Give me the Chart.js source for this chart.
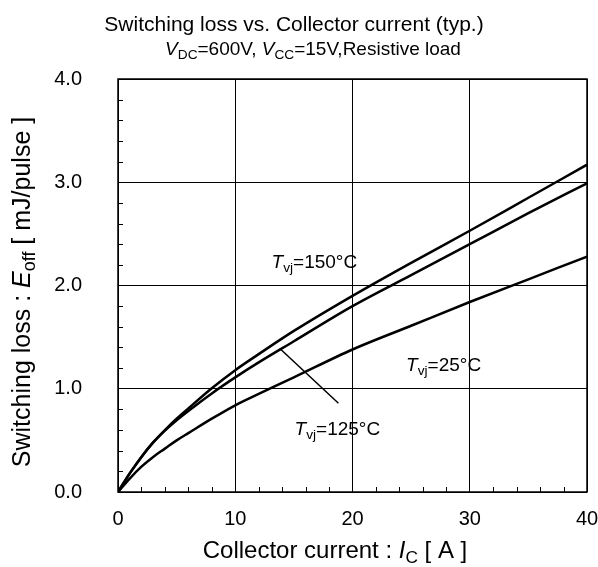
<!DOCTYPE html>
<html>
<head>
<meta charset="utf-8">
<script src="https://cdn.jsdelivr.net/npm/chart.js@4"></script>
<style>
  html, body { margin: 0; padding: 0; background: #fff; }
  #wrap { width: 598px; height: 567px; }
</style>
</head>
<body>
<div id="wrap"><canvas id="chart" width="598" height="567"></canvas></div>
<script>
// collector current [A]
const current = [0, 1, 2, 3, 4, 5, 6, 8, 10, 12, 15, 20, 25, 30, 35, 40];
// Eoff [mJ/pulse]
const eoff150 = [0, 0.18, 0.34, 0.48, 0.60, 0.71, 0.81, 1.005, 1.18, 1.335, 1.56, 1.90, 2.22, 2.53, 2.85, 3.17];
const eoff125 = [0, 0.18, 0.34, 0.48, 0.595, 0.695, 0.785, 0.955, 1.11, 1.255, 1.46, 1.80, 2.10, 2.40, 2.70, 2.99];
const eoff25 = [0, 0.13, 0.245, 0.34, 0.42, 0.50, 0.57, 0.71, 0.84, 0.95, 1.11, 1.38, 1.61, 1.84, 2.06, 2.28];

const xMajorTicks = [0, 10, 20, 30, 40];
const xMinorTicks = [2, 4, 6, 8, 12, 14, 16, 18, 22, 24, 26, 28, 32, 34, 36, 38];
const yMajorTicks = [0, 1, 2, 3, 4];
const yMinorTicks = [0.2, 0.4, 0.6, 0.8, 1.2, 1.4, 1.6, 1.8, 2.2, 2.4, 2.6, 2.8, 3.2, 3.4, 3.6, 3.8];

const FONT = '"Liberation Sans", Arial, sans-serif';

const toPoints = (ys) => current.map((x, i) => ({ x: x, y: ys[i] }));

const curve = (label, ys) => ({
  label: label,
  data: toPoints(ys),
  borderColor: "#000",
  borderWidth: 2.5,
  pointRadius: 0,
  cubicInterpolationMode: "monotone",
  fill: false
});

// draws a run of text pieces: {t, it: italic, sub: subscript}
const drawRich = (ctx, x, y, parts, size, align) => {
  const fontOf = (p) => (p.it ? "italic " : "") + (p.sub ? size * 0.72 : size) + "px " + FONT;
  let total = 0;
  parts.forEach((p) => {
    ctx.font = fontOf(p);
    total += ctx.measureText(p.t).width;
  });
  let cx = align === "center" ? x - total / 2 : x;
  ctx.textAlign = "left";
  ctx.textBaseline = "alphabetic";
  parts.forEach((p) => {
    ctx.font = fontOf(p);
    ctx.fillText(p.t, cx, p.sub ? y + size * 0.2 : y);
    cx += ctx.measureText(p.t).width;
  });
};

const decorations = {
  id: "decorations",
  afterDraw(chart) {
    const { ctx, chartArea: a, scales } = chart;
    const xs = scales.x, ys = scales.y;
    ctx.save();
    ctx.fillStyle = "#000";
    ctx.strokeStyle = "#000";

    // frame
    ctx.lineWidth = 1.5;
    ctx.strokeRect(a.left, a.top, a.right - a.left, a.bottom - a.top);

    // inward minor ticks
    ctx.lineWidth = 1;
    ctx.beginPath();
    xMinorTicks.forEach((v) => {
      const px = Math.round(xs.getPixelForValue(v)) + 0.5;
      ctx.moveTo(px, a.bottom);
      ctx.lineTo(px, a.bottom - 5);
    });
    yMinorTicks.forEach((v) => {
      const py = Math.round(ys.getPixelForValue(v)) + 0.5;
      ctx.moveTo(a.left, py);
      ctx.lineTo(a.left + 5, py);
    });
    ctx.stroke();

    // leader line for 125 degC
    ctx.lineWidth = 1.5;
    ctx.beginPath();
    ctx.moveTo(xs.getPixelForValue(13.8), ys.getPixelForValue(1.39));
    ctx.lineTo(xs.getPixelForValue(18.8), ys.getPixelForValue(0.86));
    ctx.stroke();

    // curve labels
    const tvj = (temp) => [{ t: "T", it: true }, { t: "vj", sub: true }, { t: "=" + temp + "°C" }];
    drawRich(ctx, xs.getPixelForValue(13.1), ys.getPixelForValue(2.17), tvj(150), 19, "left");
    drawRich(ctx, xs.getPixelForValue(15.06), ys.getPixelForValue(0.553), tvj(125), 19, "left");
    drawRich(ctx, xs.getPixelForValue(24.57), ys.getPixelForValue(1.168), tvj(25), 19, "left");

    // titles
    drawRich(ctx, 294, 31, [{ t: "Switching loss vs. Collector current (typ.)" }], 21, "center");
    drawRich(ctx, 313, 55, [
      { t: "V", it: true }, { t: "DC", sub: true }, { t: "=600V, " },
      { t: "V", it: true }, { t: "CC", sub: true }, { t: "=15V,Resistive load" }
    ], 19, "center");

    // x axis title
    drawRich(ctx, 335, 558, [
      { t: "Collector current : " }, { t: "I", it: true }, { t: "C", sub: true }, { t: " [ A ]" }
    ], 24, "center");

    // y axis title
    ctx.save();
    ctx.translate(30, 292);
    ctx.rotate(-Math.PI / 2);
    drawRich(ctx, 0, 0, [
      { t: "Switching loss : " }, { t: "E", it: true }, { t: "off", sub: true }, { t: " [ mJ/pulse ]" }
    ], 25, "center");
    ctx.restore();

    ctx.restore();
  }
};

const config = {
  type: "line",
  data: {
    datasets: [
      curve("Tvj=150°C", eoff150),
      curve("Tvj=125°C", eoff125),
      curve("Tvj=25°C", eoff25)
    ]
  },
  options: {
    responsive: false,
    animation: false,
    layout: { padding: { left: 0, top: 79, right: 11, bottom: 0 } },
    plugins: {
      legend: { display: false },
      tooltip: { enabled: false }
    },
    scales: {
      x: {
        type: "linear",
        min: 0,
        max: 40,
        afterFit: (scale) => {
          scale.height = 75;
          scale.paddingLeft = 0;
          scale.paddingRight = 0;
        },
        afterBuildTicks: (scale) => { scale.ticks = xMajorTicks.map((v) => ({ value: v })); },
        ticks: {
          color: "#000",
          padding: 15,
          maxRotation: 0,
          font: { family: FONT, size: 20 }
        },
        grid: { color: "#000", lineWidth: 1, drawTicks: false },
        border: { display: false }
      },
      y: {
        type: "linear",
        min: 0,
        max: 4,
        afterFit: (scale) => {
          scale.width = 118;
          scale.paddingTop = 0;
          scale.paddingBottom = 0;
        },
        afterBuildTicks: (scale) => { scale.ticks = yMajorTicks.map((v) => ({ value: v })); },
        ticks: {
          color: "#000",
          padding: 36,
          font: { family: FONT, size: 20 },
          callback: (v) => Number(v).toFixed(1)
        },
        grid: { color: "#000", lineWidth: 1, drawTicks: false },
        border: { display: false }
      }
    }
  },
  plugins: [decorations]
};

new Chart(document.getElementById("chart").getContext("2d"), config);
</script>
</body>
</html>
